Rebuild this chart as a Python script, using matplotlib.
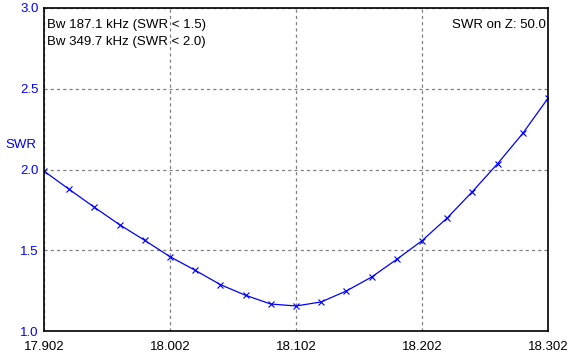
import matplotlib
matplotlib.use("Agg")
import matplotlib.pyplot as plt

# frequency (MHz) and SWR
freq = [17.902, 17.922, 17.942, 17.962, 17.982, 18.002, 18.022, 18.042, 18.062, 18.082,
        18.102, 18.122, 18.142, 18.162, 18.182, 18.202, 18.222, 18.242, 18.262, 18.282, 18.302]
swr = [1.99, 1.877, 1.766, 1.658, 1.561, 1.46, 1.376, 1.287, 1.221, 1.167,
       1.155, 1.18, 1.248, 1.334, 1.444, 1.559, 1.70, 1.863, 2.036, 2.224, 2.441]

x_ticks = [17.902, 18.002, 18.102, 18.202, 18.302]
y_ticks = [1.0, 1.5, 2.0, 2.5, 3.0]
bw_lines = ["Bw 187.1 kHz (SWR < 1.5)", "Bw 349.7 kHz (SWR < 2.0)"]
z_label = "SWR on Z: 50.0"

plt.rcParams["font.family"] = ["Liberation Sans", "DejaVu Sans"]
fs = 9.5

W, H = 573, 358
fig = plt.figure(figsize=(W / 100, H / 100), dpi=100)
ax = fig.add_axes([44 / W, (H - 331) / H, 504 / W, 323 / H])

ax.plot(freq, swr, color="#0000ff", linewidth=0.9, marker="x", markersize=5,
        markeredgewidth=0.8)

ax.set_xlim(x_ticks[0], x_ticks[-1])
ax.set_ylim(y_ticks[0], y_ticks[-1])
ax.set_xticks(x_ticks)
ax.set_xticklabels([f"{v:.3f}" for v in x_ticks])
ax.set_yticks(y_ticks)
ax.set_yticklabels([f"{v:.1f}" for v in y_ticks])
ax.tick_params(axis="x", length=0, pad=7, labelsize=fs, colors="black")
ax.tick_params(axis="y", length=0, pad=4, labelsize=fs, labelcolor="#0000ff")
ax.grid(True, color="#808080", linestyle=(0, (2.5, 2.5)), linewidth=0.9)
for s in ax.spines.values():
    s.set_linewidth(1.2)
    s.set_color("black")

fig.text(5 / W, 1 - 145 / H, "SWR", color="#0000ff", fontsize=fs, va="center", ha="left")
for i, t in enumerate(bw_lines):
    ax.text(0.006, 0.947 - i * 0.051, t, transform=ax.transAxes, fontsize=fs,
            va="center", ha="left")
ax.text(0.996, 0.947, z_label, transform=ax.transAxes, fontsize=fs, va="center", ha="right")

fig.savefig("out.png", dpi=100)
